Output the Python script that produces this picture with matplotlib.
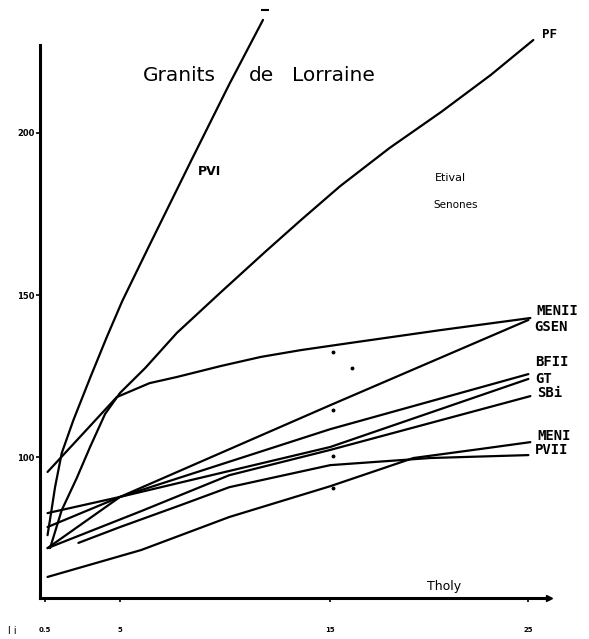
import numpy as np
import matplotlib
matplotlib.use('Agg')
import matplotlib.pyplot as plt

W, H = 589, 639

# hand-ruled abscissa: tick values and where they sit along the drawn axis
AXIS_TICKS = [0.5, 5, 15, 25]
AXIS_TICK_LABELS = ['0.5', '5', '15', '25']
XK = np.array([-5.0, 0.5, 5.0, 15.0, 25.0, 45.0])
PK = np.array([-32.0, 45.0, 120.0, 330.0, 528.0, 924.0])

Y_TICKS = [100, 150, 200]
Y_TICK_LABELS = ['100', '150', '200']

# one curve per granite
PVI_x = [0.65, 0.86, 1.1, 1.5, 2.2, 3.2, 4.2, 5.1, 6.4, 8.4, 10.2, 11.8]
PVI_y = [75.9, 82.7, 90.7, 101.2, 111.4, 124.4, 137.0, 148.1, 165.4, 191.7, 215.1, 234.9]

PF_x = [0.8, 1.5, 2.4, 3.2, 4.1, 5.0, 6.2, 7.7, 9.8, 11.9, 13.6, 15.5, 18.0, 20.6, 23.1, 25.25]
PF_y = [71.9, 83.6, 93.5, 103.1, 113.3, 119.8, 127.5, 138.3, 150.9, 163.3, 173.1, 183.6, 195.4, 206.5, 217.9, 228.7]

MENII_x = [0.65, 2.7, 4.8, 6.4, 7.7, 9.8, 11.7, 13.6, 16.0, 20.6, 25.1]
MENII_y = [95.4, 106.8, 118.5, 122.8, 124.7, 128.1, 130.9, 133.0, 135.2, 139.2, 142.9]

GSEN_x = [0.65, 5.0, 15.0, 25.0]
GSEN_y = [71.9, 87.7, 116.0, 142.3]

BFII_x = [0.65, 5.0, 15.0, 25.0]
BFII_y = [82.7, 87.7, 108.6, 125.6]

GT_x = [0.65, 5.0, 15.0, 25.0]
GT_y = [78.4, 87.7, 103.1, 124.1]

SBi_x = [0.65, 6.0, 10.2, 15.0, 20.05, 25.1]
SBi_y = [71.9, 83.3, 94.4, 102.2, 110.5, 118.8]

MENI_x = [0.65, 6.0, 10.2, 15.0, 19.2, 22.6, 25.1]
MENI_y = [63.0, 71.3, 81.5, 91.0, 99.7, 102.5, 104.6]

PVII_x = [2.5, 5.0, 7.9, 10.2, 15.0, 20.05, 25.0]
PVII_y = [73.5, 78.4, 85.2, 90.7, 97.5, 99.7, 100.6]

# isolated measurement dots
DOT_x = [15.15, 16.1, 15.15, 15.15, 15.15]
DOT_y = [132.4, 127.5, 114.5, 100.3, 90.4]

END_LABELS = ['PF', 'MENII', 'GSEN', 'BFII', 'GT', 'SBi', 'MENI', 'PVII']


def fwd(x):
    return np.interp(x, XK, PK)


def inv(p):
    return np.interp(p, PK, XK)


def fig_xy(px, py):
    return px / W, 1 - py / H


fig = plt.figure(figsize=(W / 100, H / 100), dpi=100)
ax = fig.add_axes([40 / W, (H - 598) / H, 528 / W, (598 - 5) / H])
ax.set_xscale('function', functions=(fwd, inv))
ax.set_xlim(0.14, 27.0)
ax.set_ylim(56.5, 239.5)

lw = 1.6
series = {
    'PVI': (PVI_x, PVI_y), 'PF': (PF_x, PF_y), 'MENII': (MENII_x, MENII_y),
    'GSEN': (GSEN_x, GSEN_y), 'BFII': (BFII_x, BFII_y), 'GT': (GT_x, GT_y),
    'SBi': (SBi_x, SBi_y), 'MENI': (MENI_x, MENI_y), 'PVII': (PVII_x, PVII_y),
}
for name, (xs, ys) in series.items():
    ax.plot(xs, ys, color='black', lw=lw, solid_capstyle='round',
            solid_joinstyle='round', clip_on=False)

ax.plot(DOT_x, DOT_y, 'o', color='black', ms=1.8, ls='none')
# little stop dash above the PVI curve
ax.plot([PVI_x[-1] + 0.1], [PVI_y[-1] + 3.2], marker='_', ms=6, mew=1.5,
        color='black', clip_on=False)

# label offsets (points) from each curve's last point
offsets = {'PF': (6, 4), 'MENII': (4, 5), 'GSEN': (4, -5), 'BFII': (5, 9),
           'GT': (5, 0), 'SBi': (5, 2), 'MENI': (5, 4.5), 'PVII': (5, 3.5)}
for name in END_LABELS:
    xs, ys = series[name]
    ax.annotate(name, (xs[-1], ys[-1]), xytext=offsets[name],
                textcoords='offset points', ha='left', va='center',
                fontsize=10 if name != 'PF' else 9, fontweight='bold',
                family='DejaVu Sans Mono', annotation_clip=False)

ax.text(8.7, 188, 'PVI', fontsize=9, fontweight='bold', va='center',
        family='DejaVu Sans')

for s in ['top', 'right']:
    ax.spines[s].set_visible(False)
ax.spines['left'].set_linewidth(2.2)
ax.spines['bottom'].set_linewidth(2.2)
ax.spines['left'].set_bounds(56.5, 227.2)
ax.spines['bottom'].set_bounds(0.14, 26.06)
ax.plot([26.06], [56.5], marker='>', ms=5, color='black', clip_on=False)

ax.set_xticks(AXIS_TICKS)
ax.set_xticklabels(AXIS_TICK_LABELS, fontsize=5, fontweight='bold')
ax.set_yticks(Y_TICKS)
ax.set_yticklabels(Y_TICK_LABELS, fontsize=6, fontweight='bold')
ax.tick_params(axis='x', length=3, width=1.2, pad=18)
ax.tick_params(axis='y', length=3, width=1.2, pad=1)
ax.minorticks_off()

# heading and place names
fig.text(*fig_xy(143, 81), 'Granits', fontsize=14.5, va='baseline')
fig.text(*fig_xy(249, 81), 'de', fontsize=14.5, va='baseline')
fig.text(*fig_xy(292, 81), 'Lorraine', fontsize=14.5, va='baseline')
fig.text(*fig_xy(435, 181), 'Etival', fontsize=8, va='baseline')
fig.text(*fig_xy(433, 208), 'Senones', fontsize=7.5, va='baseline')
fig.text(*fig_xy(427, 590), 'Tholy', fontsize=9, va='baseline')
fig.text(*fig_xy(8, 634), 'l i', fontsize=7, va='baseline')

fig.savefig('out.png', dpi=100, facecolor='white')
